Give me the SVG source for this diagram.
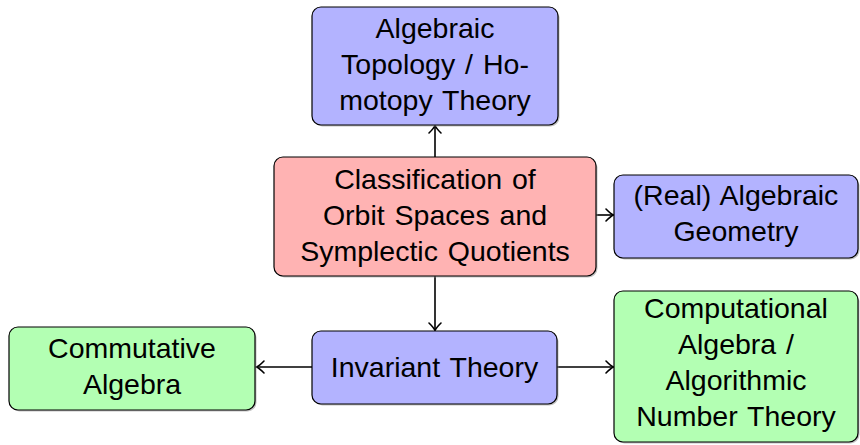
<svg xmlns="http://www.w3.org/2000/svg" width="860" height="445" viewBox="0 0 860 445">
<style>
.box{stroke:#000;stroke-width:1.2}
.blue{fill:#b3b3ff}.red{fill:#ffb3b3}.green{fill:#b3ffb3}
.sh{fill:#999;opacity:0.6}
text{font-family:"Liberation Sans",Arial,Helvetica,sans-serif;font-size:28.5px;word-spacing:2px;fill:#000;text-anchor:middle}
.edge{stroke:#000;stroke-width:1.6;fill:none;marker-end:url(#arr)}
</style>
<defs>
<marker id="arr" markerUnits="userSpaceOnUse" markerWidth="16" markerHeight="16" viewBox="-9 -8 11 16" refX="0" refY="0" orient="auto">
<path d="M-7,-6 Q-2.5,-1.4 0.5,0 Q-2.5,1.4 -7,6" fill="none" stroke="#000" stroke-width="1.6" stroke-linecap="round"/>
</marker>
</defs>
<g id="connectors">
<line class="edge" x1="435" y1="157" x2="435" y2="126"/>
<line class="edge" x1="596" y1="215" x2="613" y2="215"/>
<line class="edge" x1="435" y1="276" x2="435" y2="330"/>
<line class="edge" x1="312" y1="367" x2="257" y2="367"/>
<line class="edge" x1="557" y1="367" x2="613" y2="367"/>
</g>
<g id="n-topology">
<rect class="sh" x="313.5" y="8.5" width="246" height="118" rx="9"/>
<rect class="box blue" x="312" y="7" width="246" height="118" rx="9"/>
<text x="435" y="38">Algebraic</text>
<text x="435" y="74">Topology / Ho-</text>
<text x="435" y="110">motopy Theory</text>
</g>
<g id="n-classification">
<rect class="sh" x="275.5" y="158.5" width="322" height="119" rx="9"/>
<rect class="box red" x="274" y="157" width="322" height="119" rx="9"/>
<text x="435" y="189">Classification of</text>
<text x="435" y="225">Orbit Spaces and</text>
<text x="435" y="261">Symplectic Quotients</text>
</g>
<g id="n-geometry">
<rect class="sh" x="615.5" y="176.5" width="244" height="83" rx="9"/>
<rect class="box blue" x="614" y="175" width="244" height="83" rx="9"/>
<text x="736" y="205">(Real) Algebraic</text>
<text x="736" y="241">Geometry</text>
</g>
<g id="n-invariant">
<rect class="sh" x="313.5" y="332.5" width="245" height="73" rx="9"/>
<rect class="box blue" x="312" y="331" width="245" height="73" rx="9"/>
<text x="434.5" y="377">Invariant Theory</text>
</g>
<g id="n-commutative">
<rect class="sh" x="10.5" y="328.5" width="246" height="83" rx="9"/>
<rect class="box green" x="9" y="327" width="246" height="83" rx="9"/>
<text x="132" y="358">Commutative</text>
<text x="132" y="394">Algebra</text>
</g>
<g id="n-computational">
<rect class="sh" x="615.5" y="292.5" width="244" height="151" rx="9"/>
<rect class="box green" x="614" y="291" width="244" height="151" rx="9"/>
<text x="736" y="318">Computational</text>
<text x="736" y="354">Algebra /</text>
<text x="736" y="390">Algorithmic</text>
<text x="736" y="426">Number Theory</text>
</g>
</svg>
